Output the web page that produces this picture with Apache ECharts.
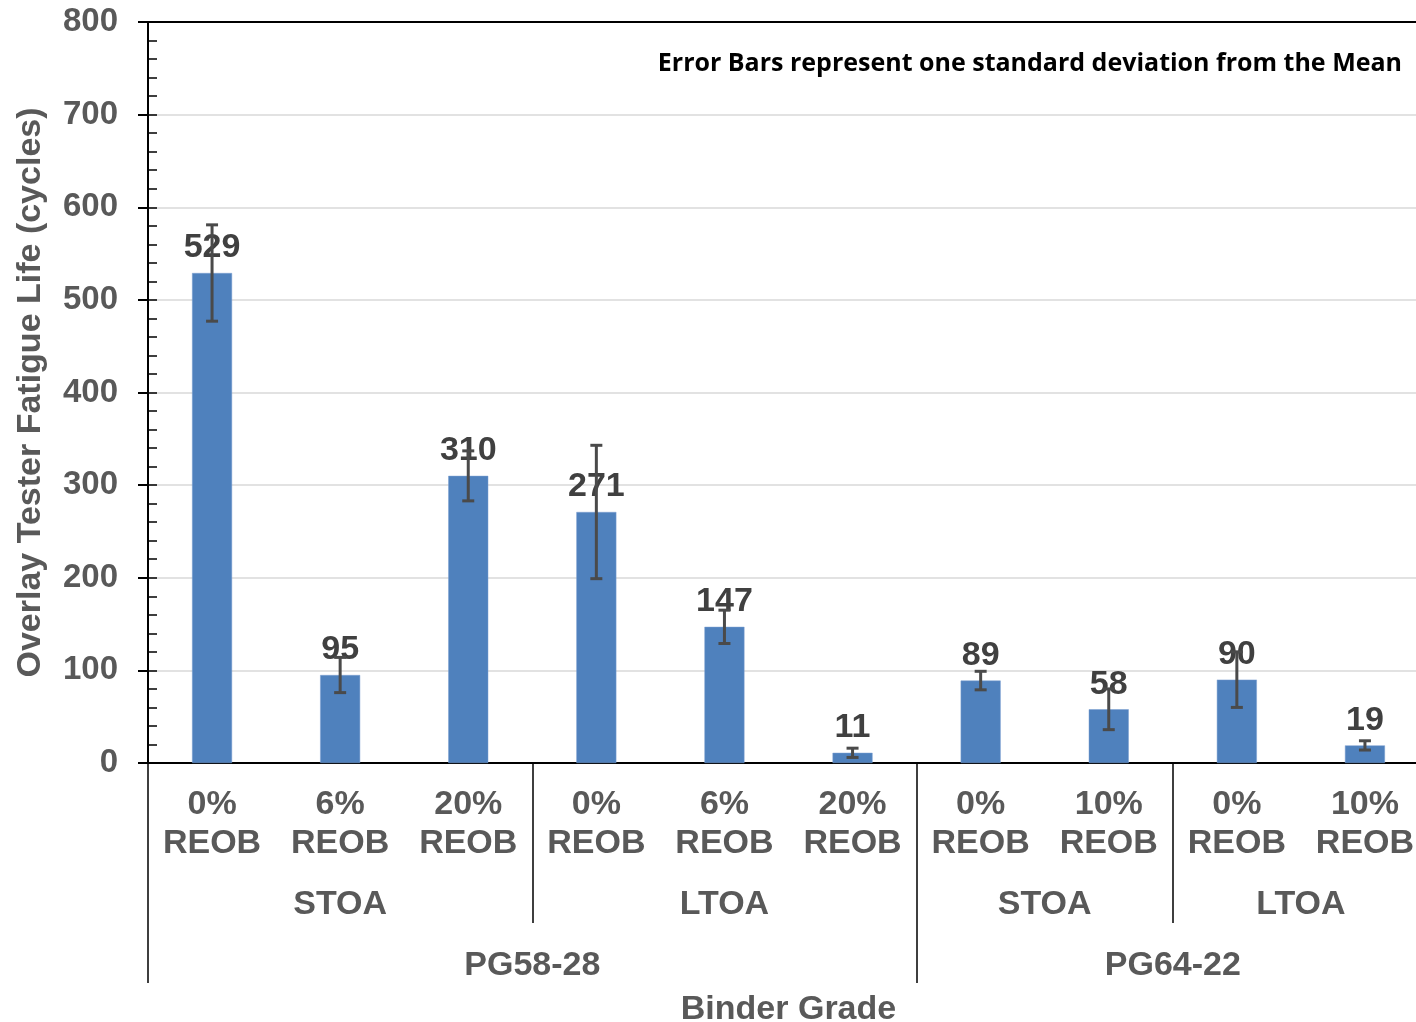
<!DOCTYPE html>
<html>
<head>
<meta charset="utf-8">
<script src="https://cdn.jsdelivr.net/npm/echarts@6/dist/echarts.min.js"></script>
<style>html,body{margin:0;padding:0;background:#fff;}#c{width:1416px;height:1022px;}</style>
</head>
<body>
<div id="c"></div>
<script>
// ---- data ----
var categories = ['0%\nREOB','6%\nREOB','20%\nREOB','0%\nREOB','6%\nREOB','20%\nREOB','0%\nREOB','10%\nREOB','0%\nREOB','10%\nREOB'];
var means = [529, 95, 310, 271, 147, 11, 89, 58, 90, 19];
var stdev = [52, 19, 27, 72, 18, 5, 10, 22, 30, 5];
var agingLabels = ['STOA', 'LTOA', 'STOA', 'LTOA'];
var agingCenters = [1.5, 4.5, 7, 9];
var agingBounds = [0, 3, 6, 8, 10];
var binderLabels = ['PG58-28', 'PG64-22'];
var binderCenters = [3, 8];
var binderBounds = [0, 6, 10];
var yTicks = [0, 100, 200, 300, 400, 500, 600, 700, 800];

var FONT = '"Liberation Sans", Arial, sans-serif';
var GREY = '#595959';

var chart = echarts.init(document.getElementById('c'), null, {renderer: 'canvas'});

var errData = means.map(function (m, i) { return [i, m, stdev[i]]; });

var option = {
  animation: false,
  backgroundColor: '#ffffff',
  grid: {left: 148, right: -13, top: 22, bottom: 259, containLabel: false, outerBoundsMode: 'none'},
  title: {
    text: 'Error Bars represent one standard deviation from the Mean',
    right: 14, top: 51, padding: 0,
    textStyle: {fontFamily: '"Open Sans", sans-serif', fontWeight: 'bold', fontSize: 25, color: '#000'}
  },
  xAxis: [
    {
      type: 'category', data: categories, position: 'bottom',
      axisLine: {show: true, lineStyle: {color: '#000', width: 2}},
      axisTick: {show: false},
      axisLabel: {interval: 0, margin: 22, fontFamily: FONT, fontWeight: 'bold', fontSize: 34, lineHeight: 39, color: GREY}
    },
    {
      type: 'value', min: 0, max: 10, position: 'bottom',
      axisLine: {show: false},
      splitLine: {show: false},
      axisTick: {show: true, customValues: agingBounds, length: 160, lineStyle: {color: '#000', width: 1.5}},
      axisLabel: {
        customValues: agingCenters, margin: 125,
        formatter: function (v) { return agingLabels[agingCenters.indexOf(v)] || ''; },
        fontFamily: FONT, fontWeight: 'bold', fontSize: 34, lineHeight: 34, color: GREY
      }
    },
    {
      type: 'value', min: 0, max: 10, position: 'bottom',
      axisLine: {show: false},
      splitLine: {show: false},
      axisTick: {show: true, customValues: binderBounds, length: 220, lineStyle: {color: '#000', width: 1.5}},
      axisLabel: {
        customValues: binderCenters, margin: 186,
        formatter: function (v) { return binderLabels[binderCenters.indexOf(v)] || ''; },
        fontFamily: FONT, fontWeight: 'bold', fontSize: 34, lineHeight: 34, color: GREY
      },
      name: 'Binder Grade', nameLocation: 'middle', nameGap: 230,
      nameTextStyle: {fontFamily: FONT, fontWeight: 'bold', fontSize: 34, lineHeight: 34, color: GREY}
    },
    {
      type: 'value', min: 0, max: 10, position: 'top',
      axisLine: {show: true, lineStyle: {color: '#000', width: 2}},
      axisTick: {show: false}, axisLabel: {show: false}, splitLine: {show: false}
    }
  ],
  yAxis: [
    {
      type: 'value', min: 0, max: 800, interval: 100,
      axisLine: {show: true, lineStyle: {color: '#000', width: 2}},
      axisTick: {show: true, length: 10, lineStyle: {color: '#000', width: 2}},
      splitLine: {show: true, lineStyle: {color: '#d9d9d9', width: 1.5}},
      axisLabel: {
        margin: 30, fontFamily: FONT, fontWeight: 'bold', fontSize: 33, color: GREY,
        customValues: yTicks
      },
      name: 'Overlay Tester Fatigue Life (cycles)', nameLocation: 'middle', nameGap: 100, nameRotate: 90,
      nameTextStyle: {fontFamily: FONT, fontWeight: 'bold', fontSize: 34, color: GREY}
    },
    {
      type: 'value', min: 0, max: 800, interval: 20, position: 'left',
      axisLine: {show: false},
      axisTick: {show: true, inside: true, length: 9, lineStyle: {color: '#000', width: 1.5}},
      splitLine: {show: false},
      axisLabel: {show: false}
    }
  ],
  series: [
    {
      type: 'bar', data: means, xAxisIndex: 0, yAxisIndex: 0,
      barWidth: 40, z: 2,
      itemStyle: {color: '#4F81BD', borderColor: '#7a9fd0', borderWidth: 0.5},
      label: {
        show: true, position: 'top', distance: 8,
        fontFamily: FONT, fontWeight: 'bold', fontSize: 34, lineHeight: 34, color: '#404040'
      }
    },
    {
      type: 'custom', xAxisIndex: 0, yAxisIndex: 0, z: 10,
      data: errData,
      encode: {x: 0, y: 1},
      renderItem: function (params, api) {
        var x = api.value(0), m = api.value(1), e = api.value(2);
        var hi = api.coord([x, m + e]);
        var lo = api.coord([x, m - e]);
        var cap = 6;
        var st = {stroke: '#4a4a4a', lineWidth: 3};
        return {
          type: 'group',
          children: [
            {type: 'line', shape: {x1: hi[0], y1: hi[1], x2: lo[0], y2: lo[1]}, style: st},
            {type: 'line', shape: {x1: hi[0] - cap, y1: hi[1], x2: hi[0] + cap, y2: hi[1]}, style: st},
            {type: 'line', shape: {x1: lo[0] - cap, y1: lo[1], x2: lo[0] + cap, y2: lo[1]}, style: st}
          ]
        };
      }
    }
  ]
};
chart.setOption(option);
</script>
</body>
</html>
